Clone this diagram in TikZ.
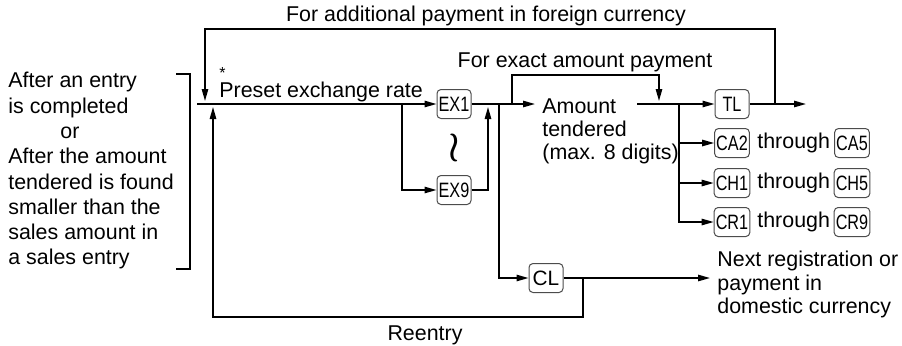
\documentclass[tikz,border=0pt]{standalone}
\usepackage{fontspec}
\setmainfont{Liberation Sans}
\newfontfamily\keyfont[FakeStretch=0.78]{Liberation Sans}
\usetikzlibrary{arrows.meta,positioning,calc}
\tikzset{
  >={Triangle[length=6pt,width=3.2pt]},
  % tangenter
  key/.style={draw=black!70,rounded corners=2pt,line width=0.5pt,inner sep=0.8pt,
              minimum width=17pt,minimum height=14.5pt,
              font=\keyfont\fontsize{10.4}{11}\selectfont},
  % texter
  txt/.style={font=\fontsize{10.7}{12.6}\selectfont,inner sep=0pt},
  % flöden
  flow/.style={draw=black,line width=0.75pt},
}
\begin{document}
\begin{tikzpicture}[x=0.5pt,y=-0.5pt]
\useasboundingbox (0,0) rectangle (902,345);
  \node[key] (ex1) at (454,104) {EX1};
  \node[key] (ex9) at (454,190) {EX9};
  \node[inner sep=0pt] (sim) at (454,148) {\scalebox{1.8}[2.1]{\boldmath$\wr$}};
  \node[key] (tl) at (732,104) {TL};
  \node[key] (ca2) at (732,143) {CA2};
  \node[txt,anchor=west] (thr1) at (757,143) {through};
  \node[key] (ca5) at (852,143) {CA5};
  \node[key] (ch1) at (732,183) {CH1};
  \node[txt,anchor=west] (thr2) at (757,183) {through};
  \node[key] (ch5) at (852,183) {CH5};
  \node[key] (cr1) at (732,222) {CR1};
  \node[txt,anchor=west] (thr3) at (757,222) {through};
  \node[key] (cr9) at (852,222) {CR9};
  \node[key,font=\fontsize{10.4}{11}\selectfont] (cl) at (546,278) {CL};
  % texter
  \node[txt,anchor=base] (addl) at (486,21) {For additional payment in foreign currency};
  \node[txt,anchor=base] (exact) at (585,67) {For exact amount payment};
  \node[txt,anchor=base west] (preset) at (219,97)
    {\rlap{\raisebox{1.6ex}{\fontsize{8}{8}\selectfont *}}Preset exchange rate};
  \node[txt,anchor=north west,align=left,
        font=\fontsize{10.7}{11.7}\selectfont] (amt) at (542,98)
    {Amount\\tendered\\(max. 8 digits)};
  \node[txt,anchor=north west,align=left,
        font=\fontsize{10.7}{12.65}\selectfont] (cond) at (8,72)
    {After an entry\\is completed\\\hspace*{26pt}or\\After the amount\\
     tendered is found\\smaller than the\\sales amount in\\a sales entry};
  \node[txt,anchor=north west,align=left,
        font=\fontsize{10.7}{11.7}\selectfont] (next) at (717,251)
    {Next registration or\\payment in\\domestic currency};
  \node[txt,anchor=base] (reent) at (425,340) {Reentry};
  % hakparentes
  \draw[line width=0.6pt] (176,74) -- (190,74) -- (190,269) -- (176,269);
  % knutpunkter
  \coordinate (in) at (197,104);
  \coordinate (j1) at (205,104);
  \coordinate (j2) at (213,104);
  \coordinate (j3) at (402,104);
  \coordinate (j4) at (488,104);
  \coordinate (j5) at (499,104);
  \coordinate (j6) at (512,104);
  \coordinate (amtin) at (535,104);
  \coordinate (amtout) at (637,104);
  \coordinate (j7) at (659,104);
  \coordinate (j8) at (679,104);
  \coordinate (j9) at (775,104);
  \coordinate (out) at (806,104);
  \coordinate (j10) at (583,278);
  \coordinate (dom) at (710,278);
  \draw[flow,->] (in) -- (ex1);
  \draw[flow,->] (j3) |- (ex9);
  \draw[flow,->,shorten >=1.5pt] (ex9) -| (j4);
  \draw[flow,->] (ex1) -- (amtin);
  \draw[flow,->] (j5) |- (cl);
  \draw[flow,->,shorten >=1.5pt] (j6) -- ++(0,-29) -| (j7);
  \draw[flow,->] (amtout) -- (tl);
  \draw[flow,->] (j8) |- (ca2);
  \draw[flow,->] (j8) |- (ch1);
  \draw[flow,->] (j8) |- (cr1);
  \draw[flow,->] (tl) -- (out);
  \draw[flow,->,shorten >=1.5pt] (j9) -- ++(0,-75) -| (j1);
  \draw[flow,->] (cl) -- (dom);
  \draw[flow,->,shorten >=1.5pt] (j10) -- ++(0,39) -| (j2);
\end{tikzpicture}
\end{document}
